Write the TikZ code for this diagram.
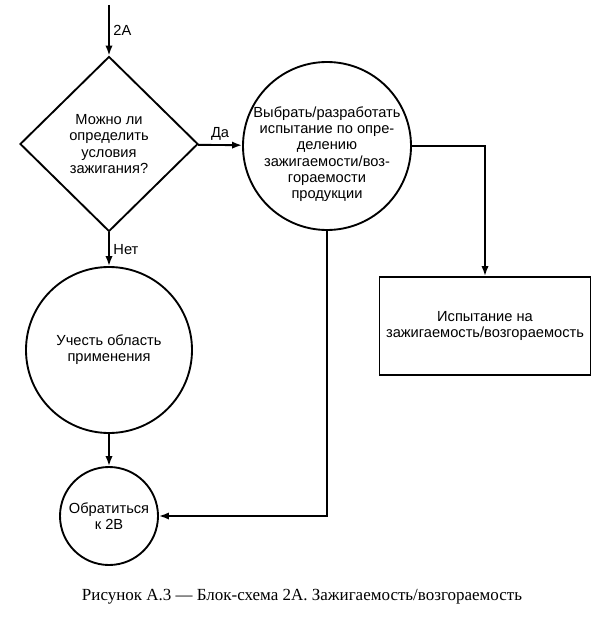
\documentclass[tikz,border=0pt]{standalone}
\usepackage{fontspec}
\setmainfont{Liberation Sans}
\newfontfamily\capfont{Liberation Serif}
\usetikzlibrary{arrows.meta, shapes.geometric}

\begin{document}
\begin{tikzpicture}[x=0.03cm, y=0.03cm,
  font=\fontsize{12.5}{13.8}\selectfont,
  line width=1.6pt,
  txt/.style={align=center, inner sep=0pt},
  ask/.style={txt, draw, diamond, minimum width=5.34cm, minimum height=5.25cm},
  circ/.style={txt, draw, circle},
  box/.style={txt, draw, rectangle, minimum width=6.33cm, minimum height=2.94cm},
  lbl/.style={inner sep=3pt},
  arr/.style={-{Latex[length=3mm, width=2.2mm]}}]
\useasboundingbox (0,0) rectangle (611,-624);
\coordinate (in) at (109,-5);
\node[ask] (q) at (109,-144) {Можно ли\\определить\\условия\\зажигания?};
\node[circ, minimum size=5.04cm,
  label={[txt, yshift=-7pt]center:Выбрать/разработать\\испытание по опре-\\делению\\зажигаемости/воз-\\гораемости\\продукции}]
  (pick) at (327,-146) {};
\node[circ, minimum size=4.98cm] (scope) at (109,-350) {Учесть область\\применения};
\node[circ, minimum size=2.94cm] (refer) at (109,-516) {Обратиться\\к 2В};
\node[box] (test) at (485,-326) {Испытание на\\зажигаемость/возгораемость};
\node[font=\capfont\fontsize{14.5}{16}\selectfont] (cap) at (302,-597)
  {Рисунок А.3 — Блок-схема 2А. Зажигаемость/возгораемость};
\draw[arr] (in) -- node[lbl, right]{2А} (q);
\draw[arr] (q) -- node[lbl, above]{Да} (pick);
\draw[arr] (q) -- node[lbl, right]{Нет} (scope);
\draw[arr] (scope) -- (refer);
\draw[arr] (pick.east) -| (test.north);
\draw[arr] (pick.south) |- (refer.east);
\end{tikzpicture}
\end{document}
